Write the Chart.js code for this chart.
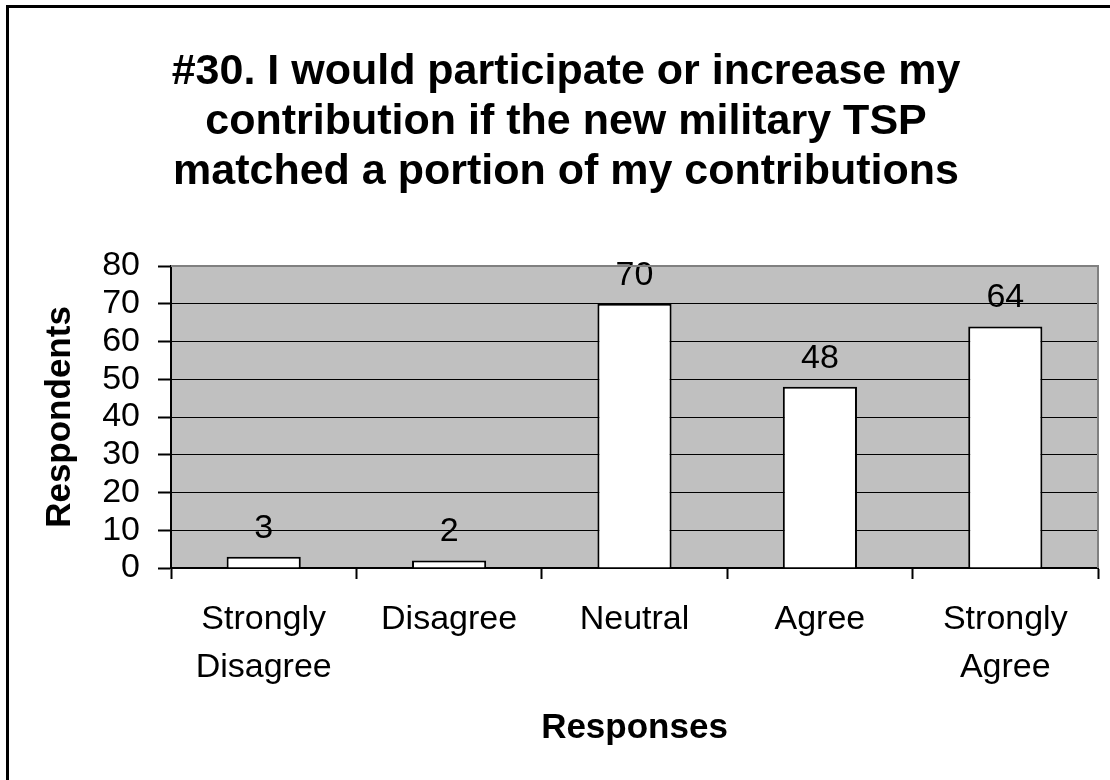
<!DOCTYPE html>
<html>
<head>
<meta charset="utf-8">
<script src="https://cdn.jsdelivr.net/npm/chart.js@4/dist/chart.umd.min.js"></script>
<style>
  html, body { margin: 0; padding: 0; background: #fff; }
  #wrap { width: 1110px; height: 780px; }
</style>
</head>
<body>
<div id="wrap"><canvas id="chart" width="1110" height="780"></canvas></div>
<script>
/* ---------- data ---------- */
const categories = [['Strongly', 'Disagree'], 'Disagree', 'Neutral', 'Agree', ['Strongly', 'Agree']];
const respondents = [3, 2, 70, 48, 64];
const titleLines = [
  '#30. I would participate or increase my',
  'contribution if the new military TSP',
  'matched a portion of my contributions'
];
const yTicks = [0, 10, 20, 30, 40, 50, 60, 70, 80];

const FONT = "'Liberation Sans', Arial, Helvetica, sans-serif";

/* ---------- plugins ---------- */
// gray plot background + outer frame
const frame = {
  id: 'frame',
  beforeDraw(chart) {
    const { ctx, chartArea: a } = chart;
    ctx.save();
    ctx.fillStyle = '#fff';
    ctx.fillRect(0, 0, chart.width, chart.height);
    ctx.strokeStyle = '#000';
    ctx.lineWidth = 3;
    ctx.beginPath();
    ctx.moveTo(7.5, chart.height + 2);
    ctx.lineTo(7.5, 6.5);
    ctx.lineTo(chart.width + 2, 6.5);
    ctx.stroke();
    ctx.fillStyle = '#C0C0C0';
    ctx.fillRect(a.left, a.top, a.right - a.left, a.bottom - a.top);
    ctx.restore();
  },
  afterDraw(chart) {
    const { ctx, chartArea: a } = chart;
    ctx.save();
    ctx.strokeStyle = '#808080';
    ctx.lineWidth = 2;
    ctx.beginPath();
    ctx.moveTo(a.left, a.top);
    ctx.lineTo(a.right, a.top);
    ctx.lineTo(a.right, a.bottom);
    ctx.stroke();
    ctx.restore();
  }
};

// value labels over the bars
const valueLabels = {
  id: 'valueLabels',
  afterDatasetsDraw(chart) {
    const { ctx } = chart;
    const meta = chart.getDatasetMeta(0);
    ctx.save();
    ctx.font = `34px ${FONT}`;
    ctx.fillStyle = '#000';
    ctx.textAlign = 'center';
    ctx.textBaseline = 'alphabetic';
    meta.data.forEach((bar, i) => {
      ctx.fillText(String(respondents[i]), bar.x, bar.y - 19);
    });
    ctx.restore();
  }
};

/* ---------- chart ---------- */
new Chart(document.getElementById('chart'), {
  type: 'bar',
  data: {
    labels: categories,
    datasets: [{
      label: 'Respondents',
      data: respondents,
      backgroundColor: '#fff',
      borderColor: '#000',
      borderWidth: 2,
      categoryPercentage: 1,
      barPercentage: 0.4
    }]
  },
  options: {
    responsive: false,
    animation: false,
    devicePixelRatio: 1,
    layout: { padding: { left: 34, right: 12, top: 0, bottom: 0 } },
    plugins: {
      legend: { display: false },
      tooltip: { enabled: false },
      title: {
        display: true,
        text: titleLines,
        color: '#000',
        font: { family: FONT, size: 43, weight: 'bold', lineHeight: 50 / 43 },
        padding: { top: 47, bottom: 69 }
      }
    },
    scales: {
      x: {
        afterFit(s) { s.height = 212; },
        grid: {
          offset: true,
          drawOnChartArea: false,
          drawTicks: true,
          tickLength: 11,
          tickWidth: 2,
          tickColor: '#000'
        },
        border: { display: true, color: '#000', width: 2 },
        ticks: {
          color: '#000',
          font: { family: FONT, size: 34, lineHeight: 48 / 34 },
          padding: 17,
          maxRotation: 0,
          autoSkip: false
        },
        title: {
          display: true,
          text: 'Responses',
          color: '#000',
          font: { family: FONT, size: 35, weight: 'bold', lineHeight: 1.2 },
          padding: { top: 0, bottom: 31 }
        }
      },
      y: {
        min: yTicks[0],
        max: yTicks[yTicks.length - 1],
        afterFit(s) { s.width = 137; },
        afterBuildTicks(s) { s.ticks = yTicks.map(v => ({ value: v })); },
        grid: {
          color: ctx => (ctx.tick && ctx.tick.value === 80 ? '#808080' : '#000'),
          lineWidth: 1,
          tickLength: 13,
          tickColor: '#000',
          tickWidth: 2
        },
        border: { display: true, color: '#000', width: 2 },
        ticks: {
          color: '#000',
          font: { family: FONT, size: 34 },
          padding: 18,
          stepSize: 10,
          autoSkip: false
        },
        title: {
          display: true,
          text: 'Respondents',
          color: '#000',
          font: { family: FONT, size: 35, weight: 'bold', lineHeight: 1.2 },
          padding: { top: 5, bottom: 0 }
        }
      }
    }
  },
  plugins: [frame, valueLabels]
});
</script>
</body>
</html>
